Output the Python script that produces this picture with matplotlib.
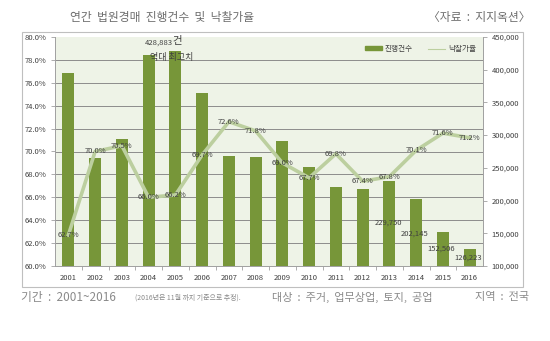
import matplotlib
matplotlib.use("Agg")
import matplotlib.pyplot as plt
import matplotlib.patches as patches
from matplotlib.lines import Line2D

plt.rcParams['font.family'] = ['Noto Sans CJK KR', 'DejaVu Sans']

# Data
years = ['2001', '2002', '2003', '2004', '2005', '2006', '2007', '2008',
         '2009', '2010', '2011', '2012', '2013', '2014', '2015', '2016']
counts = [395000, 265000, 294000, 422000, 428883, 364000, 268000, 266000,
          291000, 251000, 221000, 218000, 229750, 202145, 152506, 126223]
rates = [62.7, 70.0, 70.5, 66.0, 66.2, 69.7, 72.6, 71.8,
         69.0, 67.7, 69.8, 67.4, 67.8, 70.1, 71.6, 71.2]
count_label_idx = [12, 13, 14, 15]
count_label_drop = [42, 34, 17, 9]   # px below bar top

bar_color = '#779639'
line_color = '#bccf9f'
text_gray = '#6e6e6e'

fig = plt.figure(figsize=(5.5, 3.41), dpi=100)

# outer frame
frame = patches.Rectangle((22 / 550, 1 - 287 / 341), 501 / 550, 255 / 341,
                          transform=fig.transFigure, facecolor='white',
                          edgecolor='#bfbfbf', linewidth=0.8, zorder=-1)
fig.patches.append(frame)

ax = fig.add_axes([55 / 550, 1 - 266 / 341, 428 / 550, 229 / 341])
ax.set_facecolor('#eef3e7')
x = list(range(len(years)))
ax2 = ax.twinx()

# count axis (right) - bars
ax.set_ylim(100000, 450000)
ax.set_xlim(-0.5, len(years) - 0.5)

def pct_to_count(p):
    return 100000 + (p - 60) / 20 * 350000

for p in range(62, 80, 2):
    ax.axhline(pct_to_count(p), color='#8c8c8c', linewidth=0.7, zorder=0)

ax.bar(x, counts, width=0.45, color=bar_color, zorder=2)
ax.yaxis.tick_right()
ax.set_yticks(range(100000, 450001, 50000))
ax.set_yticklabels([f'{v:,}' for v in range(100000, 450001, 50000)])
ax.tick_params(axis='y', labelsize=5.5, color='#a0a0a0', labelcolor='#404040',
               length=3, width=0.6, pad=3)
ax.set_xticks(x)
ax.set_xticklabels(years)
ax.set_xticks([i + 0.5 for i in x[:-1]], minor=True)
ax.tick_params(axis='x', which='major', length=0, labelsize=5.5,
               labelcolor='#404040', pad=6)
ax.tick_params(axis='x', which='minor', length=3, width=0.6, color='#a0a0a0')
ax.spines['top'].set_visible(False)
for s in ['left', 'right', 'bottom']:
    ax.spines[s].set_color('#a0a0a0')
    ax.spines[s].set_linewidth(0.7)

# bar labels
ax.annotate('428,883', (4, counts[4]), xytext=(-2, 6), textcoords='offset points',
            ha='right', va='center', fontsize=5.5, color='#404040')
ax.annotate('건', (4, counts[4]), xytext=(-2, 7), textcoords='offset points',
            ha='left', va='center', fontsize=7.5, color='#404040')
ax.annotate('역대 최고치', (4, counts[4]), xytext=(-3, -5), textcoords='offset points',
            ha='center', va='center', fontsize=6.5, color='#404040', zorder=5)
for i, d in zip(count_label_idx, count_label_drop):
    ax.annotate(f'{counts[i]:,}', (i, counts[i]), xytext=(-1, -d * 0.72),
                textcoords='offset points', ha='center', va='center',
                fontsize=5.5, color='#404040', zorder=5)

# rate axis (left) - line
ax2.yaxis.tick_left()
ax2.yaxis.set_label_position('left')
ax2.set_ylim(60, 80)
ax2.set_yticks(range(60, 81, 2))
ax2.set_yticklabels([f'{v:.1f}%' for v in range(60, 81, 2)])
ax2.tick_params(axis='y', labelsize=5.5, color='#a0a0a0', labelcolor='#404040',
                length=3, width=0.6, pad=3)
ax2.plot(x, rates, color=line_color, linewidth=2.6, zorder=3)
for i, r in enumerate(rates):
    ax2.text(i, r, f'{r:.1f}%', ha='center', va='center', fontsize=5.5,
             color='#404040', zorder=6)
for s in ax2.spines.values():
    s.set_visible(False)

handles = [patches.Patch(color=bar_color),
           Line2D([0], [0], color=line_color, linewidth=0.8)]
leg = ax2.legend(handles, ['진행건수', '낙찰가율'], loc='upper right',
                 bbox_to_anchor=(1.0, 0.995), ncol=2, frameon=False,
                 fontsize=5.5, handlelength=2.2, handleheight=0.5,
                 columnspacing=2.0, handletextpad=0.4)
for t in leg.get_texts():
    t.set_color('#404040')

# titles and footer
fig.text(70 / 550, 1 - 17 / 341, '연간  법원경매  진행건수  및  낙찰가율', ha='left',
         va='center', fontsize=8.5, color=text_gray)
fig.text(530 / 550, 1 - 17 / 341, '〈자료  :  지지옥션〉', ha='right',
         va='center', fontsize=8.5, color=text_gray)
fig.text(21 / 550, 1 - 297 / 341, '기간  :  2001~2016', ha='left', va='center',
         fontsize=8.5, color='#8a8a8a')
fig.text(135 / 550, 1 - 297.5 / 341, '(2016년은 11월 까지 기준으로 추정).',
         ha='left', va='center', fontsize=5, color='#8a8a8a')
fig.text(272 / 550, 1 - 297 / 341, '대상  :  주거,  업무상업,  토지,  공업',
         ha='left', va='center', fontsize=8, color='#8a8a8a')
fig.text(529 / 550, 1 - 297 / 341, '지역  :  전국', ha='right', va='center',
         fontsize=8, color='#8a8a8a')

fig.savefig('out.png', dpi=100)
